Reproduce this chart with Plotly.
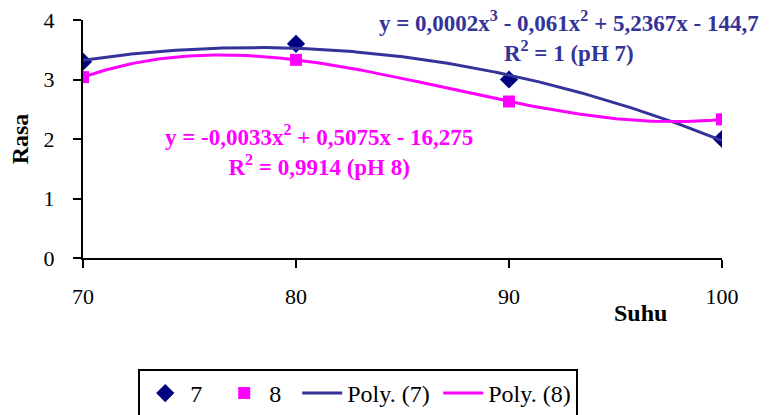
import numpy as np
import plotly.graph_objects as go

suhu = [70, 80, 90, 100]
rasa_ph7 = [3.3, 3.6, 3.0, 2.0]
rasa_ph8 = [3.04, 3.33, 2.63, 2.33]
y_ticks = [0, 1, 2, 3, 4]
x_ticks = [70, 80, 90, 100]

eq7 = "y = 0,0002x<sup>3</sup> - 0,061x<sup>2</sup> + 5,2367x - 144,7"
r7 = "R<sup>2</sup> = 1 (pH 7)"
eq8 = "y = -0,0033x<sup>2</sup> + 0,5075x - 16,275"
r8 = "R<sup>2</sup> = 0,9914 (pH 8)"

BLUE_M = "#000080"
BLUE_L = "#333399"
PINK = "#FF00FF"
SERIF = "Liberation Serif"

xs = np.linspace(min(suhu), max(suhu), 200)
fit7 = np.polyval(np.polyfit(suhu, rasa_ph7, 2), xs)
fit8 = np.polyval(np.polyfit(suhu, rasa_ph8, 3), xs)

fig = go.Figure()
fig.add_trace(go.Scatter(x=suhu, y=rasa_ph7, mode="markers", name="7", legendwidth=24,
                         marker=dict(symbol="diamond", size=14, color=BLUE_M)))
fig.add_trace(go.Scatter(x=suhu, y=rasa_ph8, mode="markers", name="8", legendwidth=23,
                         marker=dict(symbol="square", size=12, color=PINK)))
fig.add_trace(go.Scatter(x=xs, y=fit7, mode="lines", name="Poly. (7)", legendwidth=86,
                         line=dict(color=BLUE_L, width=3)))
fig.add_trace(go.Scatter(x=xs, y=fit8, mode="lines", name="Poly. (8)",
                         line=dict(color=PINK, width=3)))

ann_font7 = dict(family=SERIF, size=23, color=BLUE_L)
ann_font8 = dict(family=SERIF, size=23, color=PINK)
def ann(x, y, text, font):
    fig.add_annotation(x=x, y=y, xref="paper", yref="paper", text=text, align="center",
                       showarrow=False, font=font, xanchor="center", yanchor="middle")
ann(0.761, 0.93, "<b>" + eq7 + "<br>" + r7 + "</b>", ann_font7)
ann(0.369, 0.452, "<b>" + eq8 + "<br>" + r8 + "</b>", ann_font8)
# axis title "Suhu" placed as in the reference (right of centre)
fig.add_annotation(x=0.873, y=-0.232, xref="paper", yref="paper", text="<b>Suhu</b>",
                   showarrow=False, font=dict(family=SERIF, size=24, color="black"),
                   xanchor="center", yanchor="middle")

fig.update_layout(
    width=770, height=415,
    margin=dict(l=83, r=48, t=20, b=157, autoexpand=False),
    paper_bgcolor="white", plot_bgcolor="white",
    font=dict(family=SERIF, size=22, color="black"),
    showlegend=True,
    legend=dict(orientation="h", xref="container", yref="container",
                x=0.1795, y=0.111, xanchor="left", yanchor="top",
                bordercolor="black", borderwidth=2, font=dict(family=SERIF, size=24),
                itemwidth=40, tracegroupgap=0),
    xaxis=dict(range=[70, 100], tickvals=x_ticks, showgrid=False, zeroline=False,
               showline=True, linecolor="black", linewidth=2,
               ticks="outside", ticklen=8, tickwidth=2, tickcolor="black",
               ticklabelstandoff=10),
    yaxis=dict(range=[0, 4], tickvals=y_ticks, showgrid=False, zeroline=False,
               showline=True, linecolor="black", linewidth=2,
               ticks="outside", ticklen=8, tickwidth=2, tickcolor="black",
               ticklabelstandoff=14,
               title=dict(text="<b>Rasa</b>", font=dict(family=SERIF, size=24), standoff=8)),
)
fig.write_html("out.html", config={"displayModeBar": False},
               post_script="document.body.style.margin='0px';document.body.style.overflow='hidden';")
